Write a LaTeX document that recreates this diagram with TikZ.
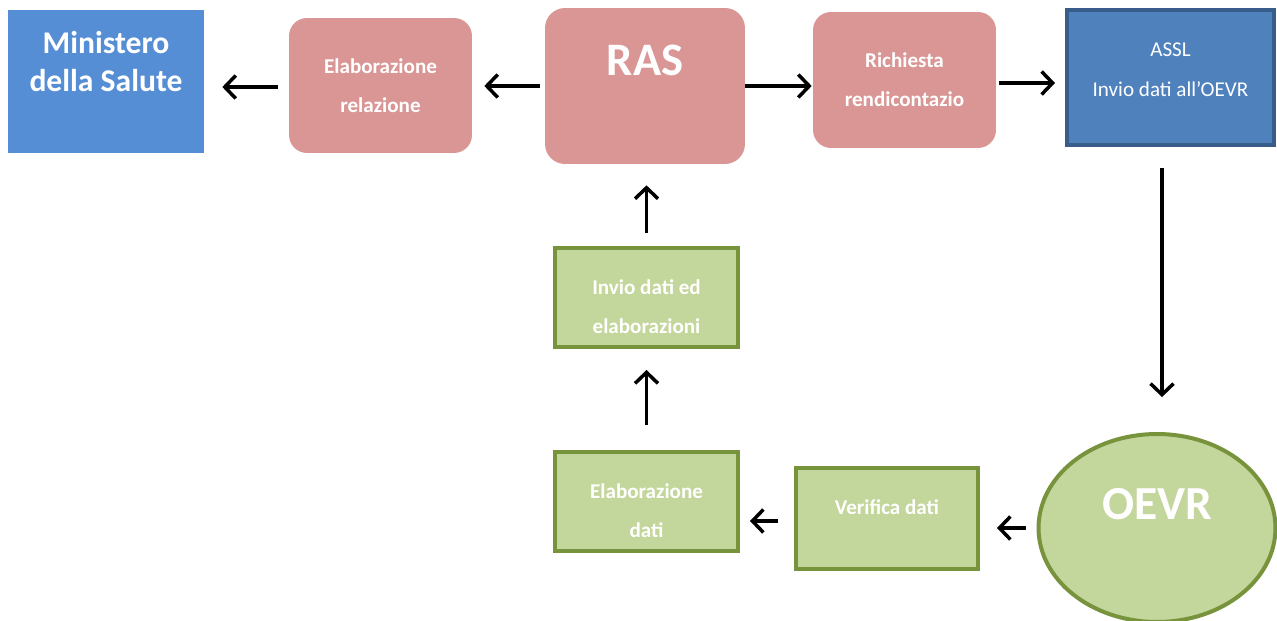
\documentclass[tikz,border=0pt]{standalone}
\usepackage{fontspec}
\setmainfont{Carlito}
\usetikzlibrary{arrows.meta,shapes.geometric}

\definecolor{minblue}{HTML}{558ED5}
\definecolor{rasred}{HTML}{D99694}
\definecolor{asslblue}{HTML}{4F81BD}
\definecolor{asslline}{HTML}{385D8A}
\definecolor{oevrgreen}{HTML}{C3D69B}
\definecolor{oevrline}{HTML}{77933C}

\tikzset{
  redbox/.style={rounded corners=0.36cm,fill=rasred,draw=none,text=white,align=center,
    font=\fontsize{12}{14.4}\selectfont\bfseries,inner sep=0pt},
  greenbox/.style={fill=oevrgreen,draw=oevrline,line width=0.08cm,text=white,align=center,
    font=\fontsize{12}{14.4}\selectfont\bfseries,inner sep=0pt,
    minimum width=3.66cm,minimum height=1.98cm},
  arr/.style={line width=0.07cm,-{Straight Barb[length=0.22cm,width=0.46cm,line width=0.07cm]}}
}

\begin{document}
\begin{tikzpicture}[x=0.02cm,y=-0.02cm]
    \useasboundingbox (0,0) rectangle (1277,621);

    \node[fill=minblue,text=white,align=center,inner sep=0pt,font=\fontsize{18}{21.6}\selectfont\bfseries,
      minimum width=3.92cm,minimum height=2.86cm,text depth=0.8cm]
      (min) at (106,81.5) {Ministero\\della Salute};
    \node[redbox,minimum width=3.66cm,minimum height=2.7cm]
      (elabrel) at (380.5,85.5) {Elaborazione\\[8pt]relazione};
    \node[redbox,rounded corners=0.4cm,minimum width=4cm,minimum height=3.12cm,
      font=\fontsize{26.5}{30}\selectfont\bfseries,text depth=1.04cm]
      (ras) at (645,86) {RAS};
    \node[redbox,minimum width=3.66cm,minimum height=2.72cm]
      (rich) at (904.5,80) {Richiesta\\[8pt]rendicontazio};
    \node[fill=asslblue,draw=asslline,line width=0.08cm,text=white,align=center,inner sep=0pt,
      font=\fontsize{12}{14.4}\selectfont,minimum width=4.14cm,minimum height=2.7cm,text depth=0.32cm]
      (assl) at (1170.5,77.5) {ASSL\\[8pt]Invio dati all’OEVR};

    \node[ellipse,fill=oevrgreen,draw=oevrline,line width=0.08cm,text=white,inner sep=0pt,
      font=\fontsize{27}{32}\selectfont\bfseries,minimum width=4.74cm,minimum height=3.76cm,text depth=0.96cm]
      (oevr) at (1157,528) {OEVR};
    \node[greenbox,minimum width=3.64cm,minimum height=2.02cm,text depth=0.44cm]
      (verifica) at (887,518.5) {Verifica dati};
    \node[greenbox,text height=41.5pt]
      (elabdati) at (646.5,501.5) {Elaborazione\\[8pt]dati};
    \node[greenbox,text height=41.5pt]
      (invio) at (646.5,297.5) {Invio dati ed\\[8pt]elaborazioni};

    \draw[arr,shorten <=0.22cm,shorten >=0.36cm] ([yshift=-0.03cm]elabrel.west) -- ([yshift=-0.03cm]elabrel.west -| min.east);
    \draw[arr,shorten <=0.1cm,shorten >=0.24cm] (ras.west) -- (ras.west -| elabrel.east);
    \draw[arr,shorten <=0cm,shorten >=0.02cm] (ras.east) -- (ras.east -| rich.west);
    \draw[arr,shorten <=0.06cm,shorten >=0.2cm] ([yshift=-0.06cm]rich.east) -- ([yshift=-0.06cm]rich.east -| assl.west);
    \draw[arr,shorten <=0.42cm,shorten >=0.7cm] ([xshift=0.1cm]oevr.north |- assl.south) -- ([xshift=0.1cm]oevr.north);
    \draw[arr,shorten <=0.22cm,shorten >=0.34cm] (oevr.west) -- (oevr.west -| verifica.east);
    \draw[arr,shorten <=0.32cm,shorten >=0.2cm] ([yshift=-0.05cm]verifica.west) -- ([yshift=-0.05cm]verifica.west -| elabdati.east);
    \draw[arr,shorten <=0.5cm,shorten >=0.42cm] (elabdati.north) -- (invio.south);
    \draw[arr,shorten <=0.26cm,shorten >=0.42cm] (invio.north) -- (invio.north |- ras.south);
\end{tikzpicture}
\end{document}
